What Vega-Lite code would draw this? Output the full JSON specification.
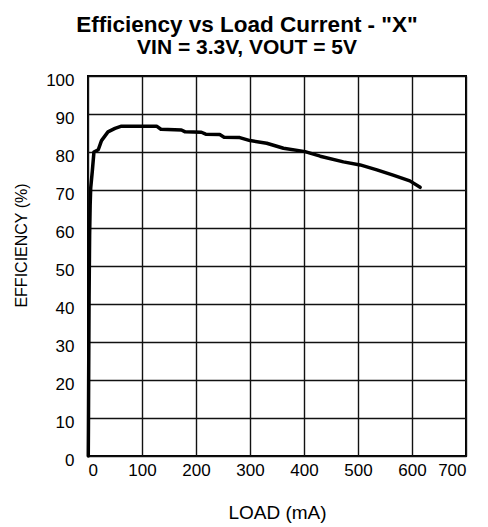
{
  "$schema": "https://vega.github.io/schema/vega-lite/v6.json",
  "autosize": {"type": "none"},
  "padding": {"left": 88, "top": 76, "right": 22, "bottom": 71},
  "width": 378,
  "height": 380,
  "background": "white",
  "title": {
    "text": "Efficiency vs Load Current - \"X\"",
    "subtitle": "VIN = 3.3V, VOUT = 5V",
    "anchor": "middle",
    "font": "Liberation Sans",
    "fontSize": 22.5,
    "fontWeight": "bold",
    "color": "black",
    "subtitleFont": "Liberation Sans",
    "subtitleFontSize": 21,
    "subtitleFontWeight": "bold",
    "subtitleColor": "black",
    "subtitlePadding": 1,
    "offset": 13,
    "frame": "group",
    "dx": -30
  },
  "config": {
    "view": {"stroke": "black", "strokeWidth": 2},
    "axis": {
      "labelFont": "Liberation Sans",
      "labelFontSize": 17,
      "labelColor": "black",
      "titleFont": "Liberation Sans",
      "titleFontWeight": "normal",
      "titleColor": "black",
      "grid": true,
      "gridColor": "#111",
      "gridWidth": 1.4,
      "gridOpacity": 1,
      "ticks": false,
      "domain": false
    }
  },
  "data": {
    "values": [
      {"load": 0.5, "eff": 0},
      {"load": 0.8, "eff": 7},
      {"load": 1.2, "eff": 20},
      {"load": 2, "eff": 42},
      {"load": 3, "eff": 58},
      {"load": 4, "eff": 66},
      {"load": 5, "eff": 70.5},
      {"load": 8, "eff": 75},
      {"load": 11, "eff": 80},
      {"load": 19, "eff": 80.6},
      {"load": 25, "eff": 83},
      {"load": 37, "eff": 85.3},
      {"load": 50, "eff": 86.2},
      {"load": 62, "eff": 86.8},
      {"load": 127, "eff": 86.8},
      {"load": 135, "eff": 86.0},
      {"load": 173, "eff": 85.8},
      {"load": 180, "eff": 85.3},
      {"load": 210, "eff": 85.2},
      {"load": 218, "eff": 84.7},
      {"load": 244, "eff": 84.6},
      {"load": 252, "eff": 83.9},
      {"load": 281, "eff": 83.8},
      {"load": 300, "eff": 83.0},
      {"load": 331, "eff": 82.3},
      {"load": 362, "eff": 81.0},
      {"load": 402, "eff": 80.1},
      {"load": 430, "eff": 78.9},
      {"load": 473, "eff": 77.4},
      {"load": 504, "eff": 76.6},
      {"load": 535, "eff": 75.3},
      {"load": 565, "eff": 73.9},
      {"load": 596, "eff": 72.4},
      {"load": 615, "eff": 70.7}
    ]
  },
  "mark": {"type": "line", "color": "black", "strokeWidth": 3.5, "strokeJoin": "round", "strokeCap": "round"},
  "encoding": {
    "x": {
      "field": "load",
      "type": "quantitative",
      "scale": {"domain": [0, 700], "nice": false},
      "axis": {"values": [0, 100, 200, 300, 400, 500, 600, 700], "title": "LOAD (mA)", "titleFontSize": 19, "labelPadding": 6, "titlePadding": 25}
    },
    "y": {
      "field": "eff",
      "type": "quantitative",
      "scale": {"domain": [0, 100], "nice": false},
      "axis": {"values": [0, 10, 20, 30, 40, 50, 60, 70, 80, 90, 100], "title": "EFFICIENCY (%)", "titleFontSize": 16, "labelPadding": 14, "labelOffset": 4, "titlePadding": 16, "titleY": 169}
    }
  }
}
